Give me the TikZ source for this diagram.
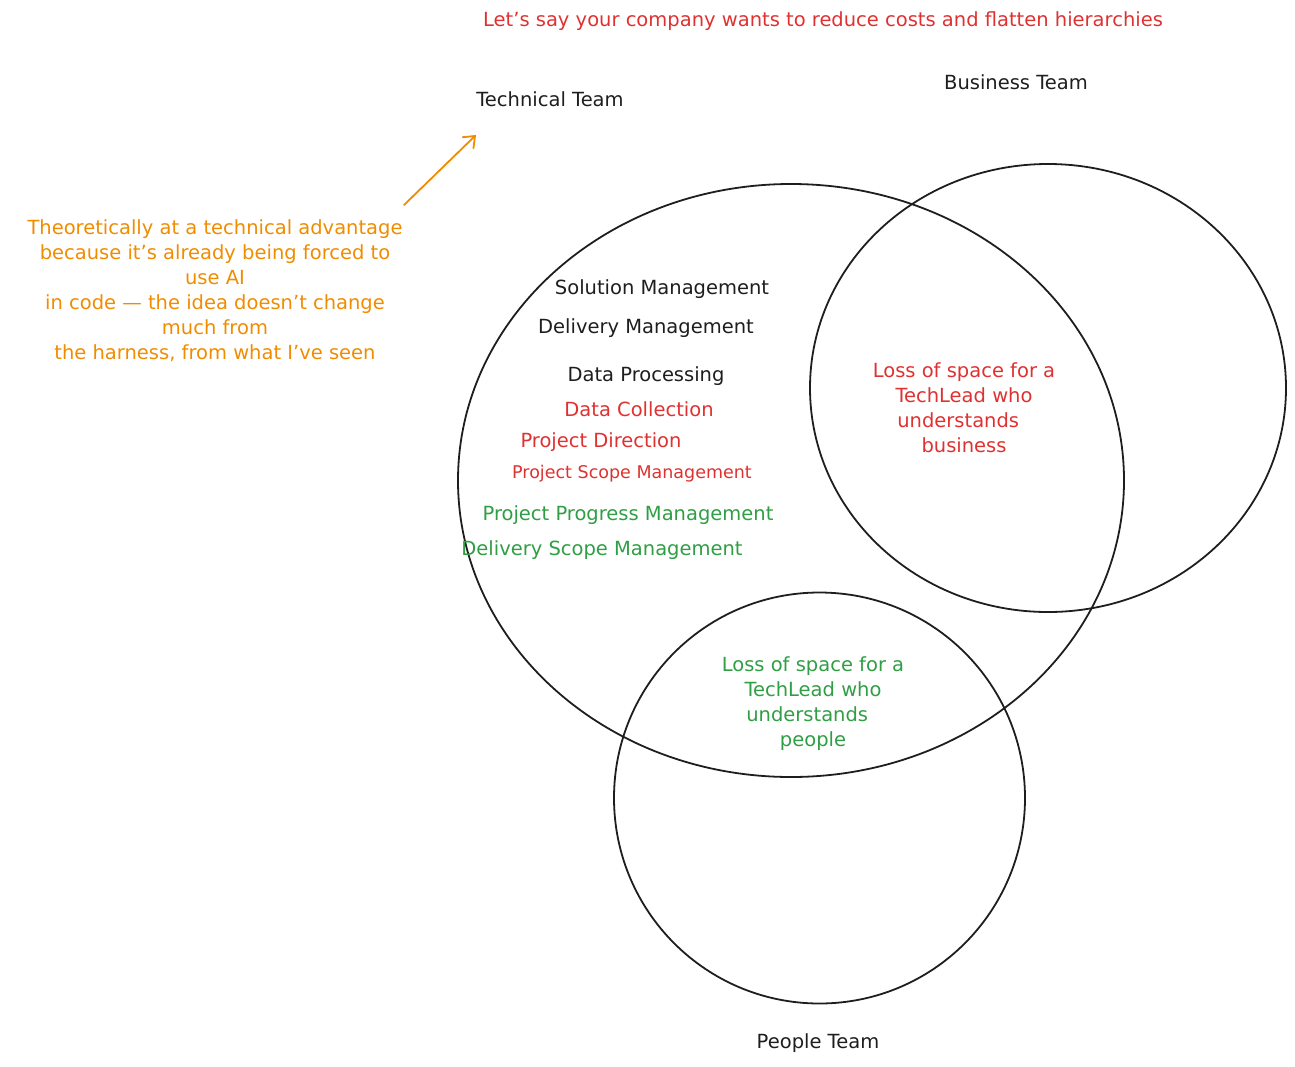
\documentclass[tikz,border=0pt]{standalone}
\usepackage{fontspec}
\setmainfont{DejaVu Sans}
\usetikzlibrary{arrows.meta}
\definecolor{exred}{HTML}{E03131}
\definecolor{exgreen}{HTML}{2F9E44}
\definecolor{exorange}{HTML}{F08C00}
\definecolor{exblack}{HTML}{1E1E1E}
\tikzset{
	lbl/.style={font=\fontsize{19.5}{25}\selectfont, inner sep=0pt, align=center},
	ring/.style={draw=exblack, line width=1.8pt}
}

\begin{document}
\begin{tikzpicture}[x=1pt, y=-1pt]
	\useasboundingbox (0,0) rectangle (1295,1066);
	% the three teams
	\draw[ring] (791,480.5) ellipse (333 and 296.5);
	\draw[ring] (1048,388) ellipse (238 and 224);
	\draw[ring] (819.5,798) circle (205.5);
	% headings
	\node[lbl, text=exred] (title) at (823,21) {Let's say your company wants to reduce costs and flatten hierarchies};
	\node[lbl, text=exblack] (tech) at (550,99) {Technical Team};
	\node[lbl, text=exblack] (biz) at (1016,82) {Business Team};
	\node[lbl, text=exblack] (people) at (818,1043) {People Team};
	% note and arrow
	\node[lbl, text=exorange] (note) at (215,290.5) {Theoretically at a technical advantage\\because it's already being forced to\\use AI\\in code — the idea doesn't change\\much from\\the harness, from what I've seen};
	\coordinate (arrowfrom) at (404,205);
	\coordinate (arrowto) at (476,135);
	\draw[exorange, line width=1.8pt, line cap=round, -{Straight Barb[length=10pt, width=16pt]}] (arrowfrom) -- (arrowto);
	% inside the technical team
	\node[lbl, text=exblack] (solution) at (662,289) {Solution Management};
	\node[lbl, text=exblack] (delivery) at (646,328) {Delivery Management};
	\node[lbl, text=exblack] (dataproc) at (646,376) {Data Processing};
	\node[lbl, text=exred] (datacoll) at (639,409) {Data Collection};
	\node[lbl, text=exred] (projdir) at (601,442) {Project Direction};
	\node[lbl, text=exred, font=\fontsize{17.5}{20}\selectfont] (projscope) at (632,474) {Project Scope Management};
	\node[lbl, text=exgreen] (progress) at (628,515) {Project Progress Management};
	\node[lbl, text=exgreen] (delscope) at (602,550) {Delivery Scope Management};
	% overlaps
	\node[lbl, text=exred] (lossbiz) at (964,407.5) {Loss of space for a\\TechLead who\\understands\phantom{x}\\business};
	\node[lbl, text=exgreen] (losspeople) at (813,703.5) {Loss of space for a\\TechLead who\\understands\phantom{x}\\people};
\end{tikzpicture}
\end{document}
